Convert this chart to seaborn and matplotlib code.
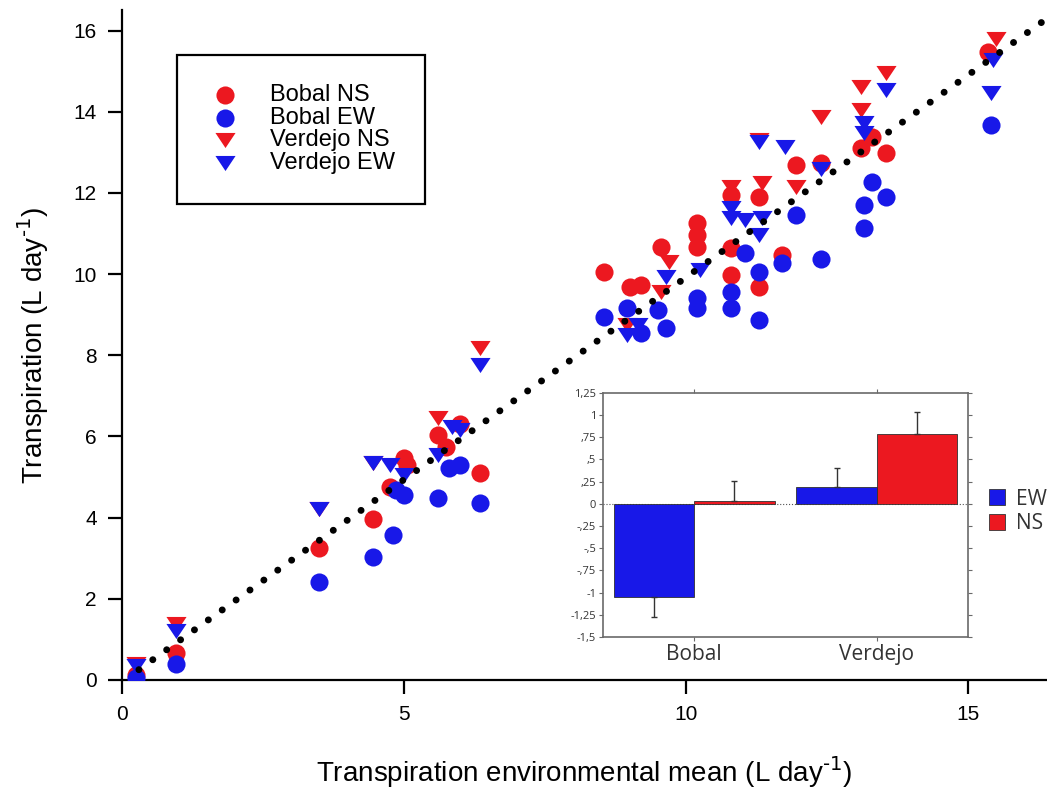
import numpy as np
import pandas as pd
import matplotlib
matplotlib.use("Agg")
import matplotlib.pyplot as plt
import seaborn as sns
from matplotlib.markers import MarkerStyle
from matplotlib.patches import Patch
from matplotlib.ticker import FixedLocator, FixedFormatter

# ---------------- data ----------------
bobal_ns_x = [0.25, 0.95, 3.5, 4.45, 4.75, 5.0, 5.05, 5.6, 5.75, 6.0, 6.35, 8.55, 9.0, 9.2,
              9.55, 10.2, 10.2, 10.2, 10.8, 10.8, 10.8, 11.3, 11.3, 11.7, 11.95, 12.4,
              13.1, 13.3, 13.55, 15.35]
bobal_ns_y = [0.12, 0.66, 3.25, 3.97, 4.75, 5.47, 5.3, 6.03, 5.74, 6.3, 5.1, 10.05, 9.68, 9.73,
              10.66, 11.26, 10.96, 10.66, 11.95, 10.64, 9.97, 11.9, 9.68, 10.47, 12.68, 12.73,
              13.1, 13.37, 12.98, 15.47]

bobal_ew_x = [0.25, 0.95, 3.5, 4.45, 4.8, 4.85, 5.0, 5.6, 5.8, 6.0, 6.35, 8.55, 8.95, 9.2,
              9.5, 9.65, 10.2, 10.2, 10.8, 10.8, 11.05, 11.3, 11.3, 11.7, 11.95, 12.4,
              13.15, 13.15, 13.3, 13.55, 15.4]
bobal_ew_y = [0.05, 0.4, 2.4, 3.03, 3.57, 4.68, 4.55, 4.48, 5.22, 5.3, 4.36, 8.94, 9.16, 8.55,
              9.11, 8.67, 9.4, 9.16, 9.55, 9.16, 10.52, 10.05, 8.87, 10.27, 11.45, 10.38,
              11.7, 11.13, 12.27, 11.9, 13.67]

verdejo_ns_x = [0.25, 0.95, 3.5, 4.45, 5.6, 6.35, 8.95, 9.55, 9.7, 10.8, 11.3, 11.35, 11.95,
                12.4, 13.1, 13.1, 13.55, 15.5]
verdejo_ns_y = [0.38, 1.38, 4.2, 5.35, 6.45, 8.18, 8.75, 9.56, 10.3, 12.14, 13.3, 12.24, 12.14,
                13.87, 14.6, 14.04, 14.95, 15.8]

verdejo_ew_x = [0.25, 0.95, 3.5, 4.45, 4.75, 5.0, 5.6, 5.85, 6.0, 6.35, 8.95, 9.15, 9.65,
                10.25, 10.8, 10.8, 11.05, 11.35, 11.3, 11.3, 11.75, 12.4, 13.15, 13.15,
                13.55, 15.45, 15.4]
verdejo_ew_y = [0.35, 1.2, 4.2, 5.35, 5.3, 5.05, 5.54, 6.23, 6.15, 7.76, 8.5, 8.74, 9.93,
                10.1, 11.62, 11.38, 11.33, 11.38, 10.96, 13.25, 13.13, 12.6, 13.72, 13.47,
                14.53, 15.27, 14.46]

ref_line_x = [0.3, 16.3]
ref_line_y = [0.25, 16.2]

main_xticks = [0, 5, 10, 15]
main_yticks = [0, 2, 4, 6, 8, 10, 12, 14, 16]

inset_cultivars = ["Bobal", "Bobal", "Verdejo", "Verdejo"]
inset_orient = ["EW", "NS", "EW", "NS"]
inset_values = [-1.05, 0.03, 0.19, 0.79]
inset_errors = [0.23, 0.23, 0.21, 0.24]
inset_yticks = [-1.5, -1.25, -1.0, -0.75, -0.5, -0.25, 0.0, 0.25, 0.5, 0.75, 1.0, 1.25]
inset_yticklabels = ["-1,5", "-1,25", "-1", "-,75", "-,5", "-,25", "0", ",25", ",5", ",75", "1", "1,25"]

# ---------------- style ----------------
sns.set_style("ticks")
plt.rcParams["font.family"] = ["Liberation Sans", "DejaVu Sans"]
plt.rcParams["text.color"] = "black"
plt.rcParams["axes.labelcolor"] = "black"

RED = "#ec1820"
BLUE = "#1818e8"

fig = plt.figure(figsize=(10.47, 7.97), dpi=100)
ax = fig.add_axes([0.1165, 0.147, 0.8835, 0.84])

tri = MarkerStyle([(-1.0, 0.75), (1.0, 0.75), (0.0, -0.75), (-1.0, 0.75)])

sns.scatterplot(x=bobal_ns_x, y=bobal_ns_y, ax=ax, marker="o", s=170, color=RED,
                linewidth=0, label="Bobal NS", zorder=3)
sns.scatterplot(x=bobal_ew_x, y=bobal_ew_y, ax=ax, marker="o", s=170, color=BLUE,
                linewidth=0, label="Bobal EW", zorder=3)
sns.scatterplot(x=verdejo_ns_x, y=verdejo_ns_y, ax=ax, marker=tri, s=210, color=RED,
                linewidth=0, label="Verdejo NS", zorder=3)
sns.scatterplot(x=verdejo_ew_x, y=verdejo_ew_y, ax=ax, marker=tri, s=210, color=BLUE,
                linewidth=0, label="Verdejo EW", zorder=3)

ax.plot(ref_line_x, ref_line_y, color="black", lw=5, linestyle=(0, (0.01, 2.45)),
        dash_capstyle="round", zorder=5)

ax.set_xlim(0, 16.4)
ax.set_ylim(0, 16.5)
ax.set_xticks(main_xticks)
ax.set_yticks(main_yticks)
sns.despine(ax=ax)
for s in ["left", "bottom"]:
    ax.spines[s].set_linewidth(1.6)
    ax.spines[s].set_color("black")
ax.tick_params(axis="both", direction="out", length=10, width=1.6, labelsize=15,
               colors="black", labelcolor="black", pad=8)
ax.set_xlabel("Transpiration environmental mean (L day$^{\\text{-}1}$)", fontsize=20,
              labelpad=22, color="black")
ax.set_ylabel("Transpiration (L day$^{\\text{-}1}$)", fontsize=20, labelpad=16,
              color="black")

leg = ax.legend(loc="upper left", bbox_to_anchor=(0.0595, 0.934), frameon=True,
                fancybox=False, edgecolor="black", fontsize=17, handletextpad=1.1,
                borderpad=1.25, labelspacing=0.03, handlelength=1.6, borderaxespad=0,
                framealpha=1)
leg.get_frame().set_linewidth(1.6)
for t in leg.get_texts():
    t.set_color("black")

# ---------------- inset ----------------
axin = fig.add_axes([0.576, 0.2008, 0.3485, 0.3063])
df_in = pd.DataFrame({"cultivar": inset_cultivars, "orient": inset_orient,
                      "value": inset_values, "err": inset_errors})
axin.axhline(0, color="#555555", lw=0.8, ls=":", zorder=0)
sns.barplot(data=df_in, x="cultivar", y="value", hue="orient", hue_order=["EW", "NS"],
            palette=[BLUE, RED], width=0.88, ax=axin, errorbar=None, saturation=1,
            edgecolor="#303030", linewidth=0.6, legend=False, zorder=2)

for cont, lvl in zip(axin.containers, ["EW", "NS"]):
    sub = df_in[df_in["orient"] == lvl]
    for bar, err in zip(cont.patches, sub["err"]):
        h = bar.get_height()
        xc = bar.get_x() + bar.get_width() / 2
        yerr = [[err], [0]] if h < 0 else [[0], [err]]
        axin.errorbar([xc], [h], yerr=yerr, fmt="none", ecolor="#333333",
                      elinewidth=1.0, capsize=2.5, capthick=1.0, zorder=3)

axin.set_ylim(-1.5, 1.25)
axin.set_xlim(-0.5, 1.5)
axin.yaxis.set_major_locator(FixedLocator(inset_yticks))
axin.yaxis.set_major_formatter(FixedFormatter(inset_yticklabels))
axin.set_xlabel("")
axin.set_ylabel("")
for s in axin.spines.values():
    s.set_color("#6a6a6a")
    s.set_linewidth(1.2)
axin.tick_params(axis="y", left=True, right=True, direction="out", length=3, width=0.8,
                 color="#6a6a6a", labelsize=8, labelcolor="#333333", pad=2)
axin.tick_params(axis="x", bottom=True, top=True, direction="out", length=3, width=0.8,
                 color="#6a6a6a", labelsize=15, labelcolor="#333333", pad=2)
for lab in axin.get_xticklabels():
    lab.set_fontfamily(["Open Sans", "DejaVu Sans"])
for lab in axin.get_yticklabels():
    lab.set_fontfamily(["Open Sans", "DejaVu Sans"])

handles = [Patch(facecolor=BLUE, edgecolor="#333333", lw=0.6, label="EW"),
           Patch(facecolor=RED, edgecolor="#333333", lw=0.6, label="NS")]
lg2 = axin.legend(handles=handles, loc="center left", bbox_to_anchor=(1.0, 0.515),
                  frameon=False, handlelength=0.8, handleheight=0.8,
                  handletextpad=0.5, labelspacing=0.15, borderaxespad=0.6,
                  prop={"family": ["Open Sans", "DejaVu Sans"], "size": 15})
for t in lg2.get_texts():
    t.set_color("#333333")

fig.savefig("out.png", dpi=100)
